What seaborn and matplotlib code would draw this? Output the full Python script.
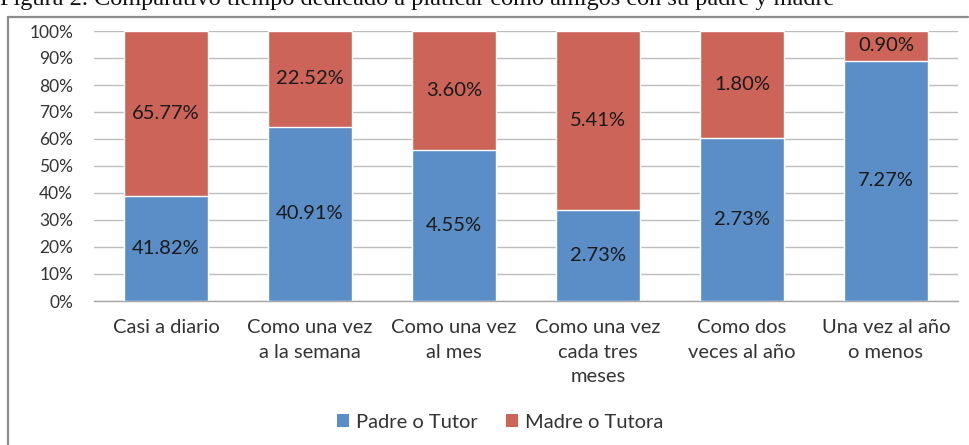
import matplotlib
matplotlib.use("Agg")
import matplotlib.pyplot as plt
import numpy as np
import pandas as pd
import seaborn as sns
from matplotlib.lines import Line2D
from matplotlib.patches import Patch

categories = [
    "Casi a diario",
    "Como una vez\na la semana",
    "Como una vez\nal mes",
    "Como una vez\ncada tres\nmeses",
    "Como dos\nveces al año",
    "Una vez al año\no menos",
]
padre = [41.82, 40.91, 4.55, 2.73, 2.73, 7.27]
madre = [65.77, 22.52, 3.60, 5.41, 1.80, 0.90]
series_names = ["Padre o Tutor", "Madre o Tutora"]
title = "Figura 2. Comparativo tiempo dedicado a platicar como amigos con su padre y madre"

BLUE = "#5B8EC6"
RED = "#CC6459"

df = pd.DataFrame({"categoria": categories, "padre": padre, "madre": madre})
df["total"] = df["padre"] + df["madre"]
df["padre_share"] = df["padre"] / df["total"]
df["total_share"] = df["total"] / df["total"]

sns.set_theme(style="white")
plt.rcParams["font.family"] = ["Lato", "DejaVu Sans"]

fig = plt.figure(figsize=(9.7, 4.45), dpi=100)
ax = fig.add_axes([94 / 970, 1 - 301 / 445, (958 - 94) / 970, (301 - 31) / 445])

bar_width = 0.58
sns.barplot(data=df, x="categoria", y="total_share", color=RED, width=bar_width,
            saturation=1, ax=ax, zorder=2)
sns.barplot(data=df, x="categoria", y="padre_share", color=BLUE, width=bar_width,
            saturation=1, ax=ax, zorder=3)

# segment labels
for i, row in df.iterrows():
    ax.text(i, row["padre_share"] / 2, f"{row['padre']:.2f}%", ha="center", va="center",
            fontsize=14.5, color="#1a1a1a", zorder=5)
    ax.text(i, row["padre_share"] + (1 - row["padre_share"]) / 2, f"{row['madre']:.2f}%",
            ha="center", va="center", fontsize=14.5, color="#1a1a1a", zorder=5)

ax.set_xlim(-0.5, len(categories) - 0.5)
ax.set_ylim(0, 1)
ax.set_yticks(np.arange(0, 1.01, 0.1))
ax.set_yticklabels([f"{int(round(v * 100))}%" for v in np.arange(0, 1.01, 0.1)])
ax.yaxis.grid(True, color="#BDBDBD", linewidth=1)
ax.set_axisbelow(True)
ax.set_xlabel("")
ax.set_ylabel("")
for side in ["top", "right", "left"]:
    ax.spines[side].set_visible(False)
ax.spines["bottom"].set_color("#A6A6A6")
ax.spines["bottom"].set_linewidth(1)
ax.tick_params(axis="y", length=0, pad=15, labelsize=12.5, labelcolor="#333333")
ax.tick_params(axis="x", length=0, pad=13, labelsize=14.5, labelcolor="#333333")
for lbl in ax.get_xticklabels():
    lbl.set_linespacing(1.55)
    lbl.set_va("top")

handles = [Patch(facecolor=BLUE, edgecolor="none"), Patch(facecolor=RED, edgecolor="none")]
fig.legend(handles, series_names, loc="center", bbox_to_anchor=(500 / 970, 1 - 422 / 445),
           ncol=2, frameon=False, fontsize=14.5, handlelength=0.6, handleheight=0.6,
           handletextpad=0.35, columnspacing=1.4, labelcolor="#333333")

# chart frame (left and top edges visible)
fig.add_artist(Line2D([8 / 970, 8 / 970], [0, 1 - 17 / 445], transform=fig.transFigure,
                      color="#8C8C8C", linewidth=1.6))
fig.add_artist(Line2D([8 / 970, 968 / 970], [1 - 17 / 445, 1 - 17 / 445],
                      transform=fig.transFigure, color="#8C8C8C", linewidth=1.6))

# caption, cropped at the top edge as in the source
fig.text(0.0, 1 - 5 / 445, title, ha="left", va="baseline", fontsize=17.5,
         family=["Liberation Serif", "DejaVu Serif"], color="#111111")

fig.savefig("out.png", dpi=100)
